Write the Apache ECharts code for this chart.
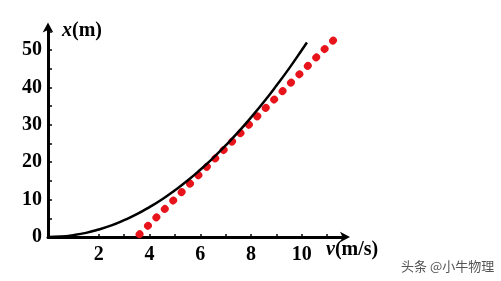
<!DOCTYPE html>
<html><head><meta charset="utf-8">
<script src="https://cdn.jsdelivr.net/npm/echarts@6/dist/echarts.min.js"></script>
<style>html,body{margin:0;padding:0;background:#fff}#c{width:501px;height:281px}</style>
</head><body><div id="c"></div>
<script>
// black curve: speed v (m/s) vs distance x (m)
const curveV = [0, 0.5, 1, 1.5, 2, 2.5, 3, 3.5, 4, 4.5, 5, 5.5, 6, 6.5, 7, 7.5, 8, 8.5, 9, 9.5, 10, 10.2];
const curveX = [0, 0.12, 0.5, 1.1, 2, 3.1, 4.5, 6.1, 8, 10.1, 12.5, 15.1, 18, 21.1, 24.5, 28.1, 32, 36.1, 40.5, 45.1, 50, 52];
// red dotted straight line endpoints
const dotV = [3.6, 11.3];
const dotX = [0.7, 53];
const xTickLabels = [2, 4, 6, 8, 10];
const yTickLabels = [0, 10, 20, 30, 40, 50];

const chart = echarts.init(document.getElementById('c'));
const serif = 'Liberation Serif';
chart.setOption({
  animation: false,
  grid: {left: 48, top: 27.6, width: 297, height: 209.4},
  xAxis: {
    type: 'value', min: 0, max: 11.7, interval: 1,
    axisLine: {show: true, lineStyle: {color: '#000', width: 3}, symbol: ['none', 'arrow'], symbolSize: [8, 10], symbolOffset: [0, 5]},
    axisTick: {show: true, inside: true, length: 3, lineStyle: {color: '#000', width: 1.5}},
    splitLine: {show: false},
    axisLabel: {
      margin: 8, color: '#000', fontFamily: serif, fontWeight: 'bold', fontSize: 20,
      formatter: v => xTickLabels.includes(Math.round(v * 100) / 100) ? String(v) : '',
      showMaxLabel: false
    }
  },
  yAxis: {
    type: 'value', min: 0, max: 56, interval: 5,
    axisLine: {show: true, lineStyle: {color: '#000', width: 3}, symbol: ['none', 'arrow'], symbolSize: [8, 10], symbolOffset: [0, 5]},
    axisTick: {show: true, inside: true, length: 4, lineStyle: {color: '#000', width: 1.5}},
    splitLine: {show: false},
    axisLabel: {
      margin: 6, color: '#000', fontFamily: serif, fontWeight: 'bold', fontSize: 20,
      formatter: v => yTickLabels.includes(Math.round(v)) && Math.abs(v - Math.round(v)) < 1e-6 ? String(v) : '',
      showMaxLabel: false
    }
  },
  graphic: [
    {type: 'text', left: 62, top: 21, style: {
      text: '{i|x}{n|(m)}',
      rich: {
        i: {fontFamily: serif, fontStyle: 'italic', fontWeight: 'bold', fontSize: 20, fill: '#000'},
        n: {fontFamily: serif, fontWeight: 'bold', fontSize: 20, fill: '#000'}
      }
    }},
    {type: 'text', left: 326, top: 240, style: {
      text: '{i|v}{n|(m/s)}',
      rich: {
        i: {fontFamily: serif, fontStyle: 'italic', fontWeight: 'bold', fontSize: 20, fill: '#000'},
        n: {fontFamily: serif, fontWeight: 'bold', fontSize: 20, fill: '#000'}
      }
    }},
    {type: 'text', left: 401, top: 260, style: {
      text: '头条 @小牛物理', fontFamily: 'Noto Sans CJK SC', fontSize: 13, fill: '#555'
    }}
  ],
  series: [
    {
      type: 'line', data: curveV.map((v, i) => [v, curveX[i]]), smooth: true, showSymbol: false,
      lineStyle: {color: '#000', width: 2.5}, z: 3
    },
    {
      type: 'line', data: dotV.map((v, i) => [v, dotX[i]]), showSymbol: false,
      lineStyle: {color: '#e8141c', width: 7.5, type: [0.5, 11.4], cap: 'round'}, z: 2
    }
  ]
});
</script></body></html>
